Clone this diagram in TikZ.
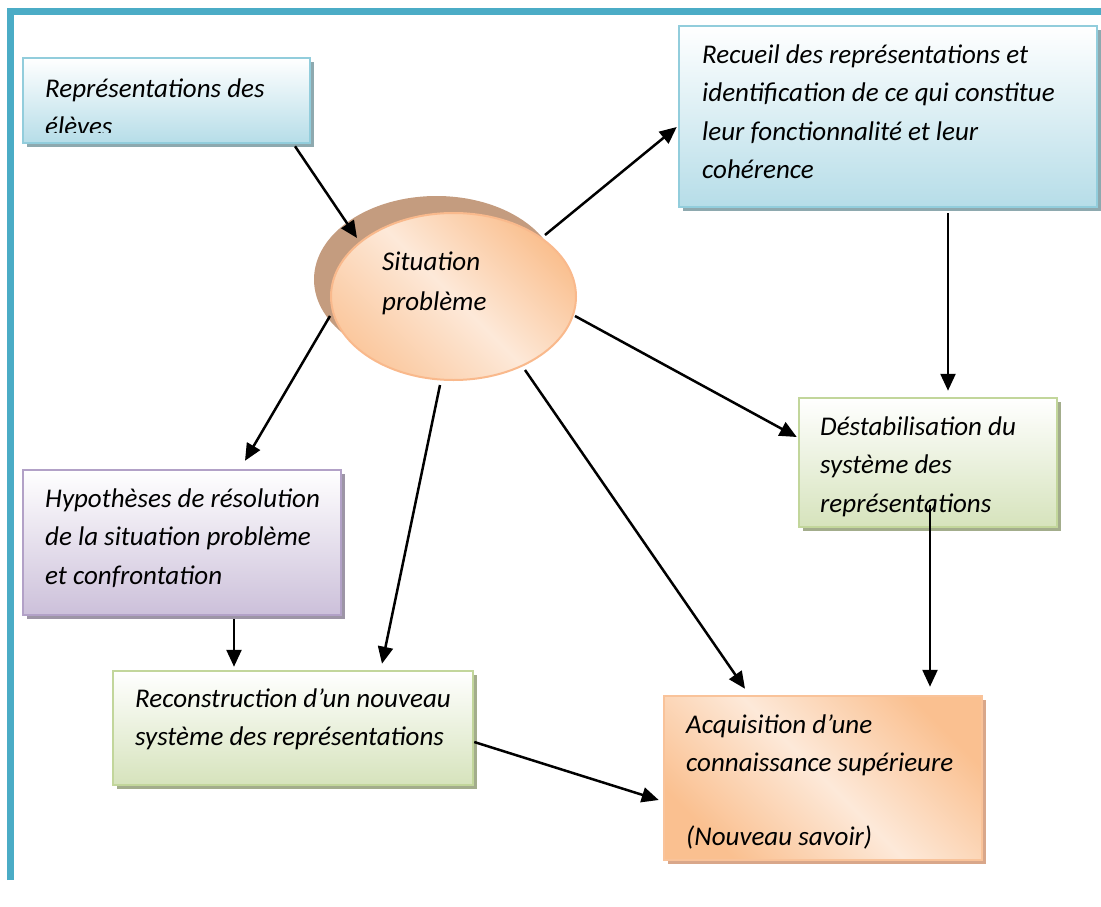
\documentclass[tikz,border=0pt]{standalone}
\usepackage{fontspec}
\setmainfont{Carlito}
\usetikzlibrary{arrows.meta,calc,shadows,shapes.geometric}
\definecolor{frameC}{HTML}{4BACC6}
\definecolor{blueB}{HTML}{92CDDC}
\definecolor{blueF}{HTML}{B6DDE8}
\definecolor{blueS}{HTML}{8EA9AF}
\definecolor{greenB}{HTML}{C2D69B}
\definecolor{greenF}{HTML}{D6E3BC}
\definecolor{greenS}{HTML}{A3AD8C}
\definecolor{purpB}{HTML}{B2A1C7}
\definecolor{purpF}{HTML}{CCC0DA}
\definecolor{purpS}{HTML}{9D95A6}
\definecolor{orB}{HTML}{F9C39A}
\definecolor{orD}{HTML}{FAC090}
\definecolor{orL}{HTML}{FDE9D9}
\definecolor{orS}{HTML}{D9A78A}
\definecolor{ellB}{HTML}{F9B98C}
\definecolor{ellS}{HTML}{C49C7F}
\tikzset{
  boxbase/.style={rectangle, draw, line width=2.5pt, inner sep=0pt},
  bluebox/.style={boxbase, draw=blueB, top color=white, bottom color=blueF,
    drop shadow={shadow xshift=4pt, shadow yshift=-4pt, fill=blueS, opacity=1}},
  greenbox/.style={boxbase, draw=greenB, top color=white, bottom color=greenF,
    drop shadow={shadow xshift=4pt, shadow yshift=-4pt, fill=greenS, opacity=1}},
  purpbox/.style={boxbase, draw=purpB, top color=white, bottom color=purpF,
    drop shadow={shadow xshift=4pt, shadow yshift=-4pt, fill=purpS, opacity=1}},
  orbox/.style={boxbase, draw=orB, top color=orD, bottom color=orD, middle color=orL, shading angle=-45,
    drop shadow={shadow xshift=4pt, shadow yshift=-4pt, fill=orS, opacity=1}},
  ellnode/.style={ellipse, draw=ellB, line width=2pt, inner sep=0pt,
    top color=orD, bottom color=orD!80!orL, middle color=orL, shading angle=-45,
    drop shadow={shadow xshift=-17pt, shadow yshift=17pt, fill=ellS, opacity=1}},
  txt/.style={anchor=base west, align=left, inner sep=0pt,
    font=\fontsize{27}{38.5}\selectfont\itshape},
  conn/.style={line width=2.5pt, -{Triangle[length=17pt,width=15pt]}},
  frameline/.style={draw=frameC, line width=6.5pt}
}
\begin{document}
\begin{tikzpicture}[x=1pt,y=-1pt]
\useasboundingbox (0,0) rectangle (1101,907);
% frame
\draw[frameline] (10.5,880) -- (10.5,11.5) -- (1101,11.5);
% boxes
\node[bluebox, minimum width=287pt, minimum height=85pt] (rep) at (166.5,100.5) {};
\node[bluebox, minimum width=418pt, minimum height=181pt] (rec) at (888,116.5) {};
\node[ellnode, minimum width=245pt, minimum height=167pt] (sit) at (453.5,296.5) {};
\node[greenbox, minimum width=258pt, minimum height=129pt] (des) at (928,462.5) {};
\node[purpbox, minimum width=318pt, minimum height=145pt] (hyp) at (182,542.5) {};
\node[greenbox, minimum width=360pt, minimum height=114pt] (recon) at (293,728) {};
\node[orbox, minimum width=318pt, minimum height=164pt] (acq) at (823,778) {};
% texts (anchor = baseline of the last line)
\begin{scope}
\clip (23,58) rectangle (310,132);
\node[txt] (rep-t) at (45,135.5) {Représentations des\\élèves};
\end{scope}
\node[txt] (rec-t) at (702,178.5) {Recueil des représentations et\\identification de ce qui constitue\\leur fonctionnalité et leur\\cohérence};
\node[txt, font=\fontsize{27}{40}\selectfont\itshape] (sit-t) at (382,310) {Situation\\problème};
\node[txt] (des-t) at (820,512) {Déstabilisation du\\système des\\représentations};
\node[txt] (hyp-t) at (45,584) {Hypothèses de résolution\\de la situation problème\\et confrontation};
\node[txt] (recon-t) at (135,745.5) {Reconstruction d’un nouveau\\système des représentations};
\node[txt] (acq-t) at (686,771.5) {Acquisition d’une\\connaissance supérieure};
\node[txt] (acq-t2) at (686,845) {(Nouveau savoir)};
% connectors
\draw[conn] ($(rep.south)+(128.5,2)$) -- ($(sit.center)+(-96.5,-58.5)$);
\draw[conn] ($(sit.center)+(91.5,-61.5)$) -- ($(rec.west)+(-1,10.5)$);
\draw[conn] ($(rec.south)+(60,5)$) -- ($(des.north)+(20,-6)$);
\draw[conn] ($(sit.center)+(121.5,19.5)$) -- ($(des.west)+(-1,-25.5)$);
\draw[conn] ($(sit.center)+(-123.5,19.5)$) -- ($(hyp.north)+(63,-8)$);
\draw[conn] ($(sit.center)+(-13.5,88.5)$) -- ($(recon.north)+(89,-6)$);
\draw[conn] ($(sit.center)+(71.5,73.5)$) -- ($(acq.north)+(-78,-6)$);
\draw[conn] ($(des.center)+(2,42.5)$) -- ($(acq.north)+(107,-8)$);
\draw[conn] ($(hyp.south)+(52,3)$) -- ($(recon.north)+(-59,-3)$);
\draw[conn] ($(recon.east)+(0,14)$) -- ($(acq.west)+(-4,22)$);
\end{tikzpicture}
\end{document}
